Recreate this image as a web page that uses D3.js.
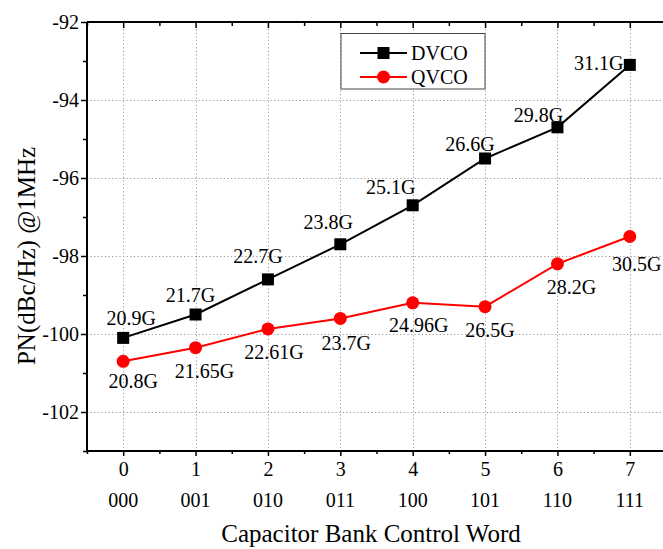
<!DOCTYPE html>
<html>
<head>
<meta charset="utf-8">
<script src="https://cdn.jsdelivr.net/npm/d3@7"></script>
<style>
  html, body { margin: 0; padding: 0; background: #fff; }
  svg { display: block; }
  text { font-family: "Liberation Serif", "Times New Roman", serif; fill: #000; }
</style>
</head>
<body>
<svg id="chart" width="663" height="549"></svg>
<script>
// ---- Data ----
const codes = [0, 1, 2, 3, 4, 5, 6, 7];
const codeWords = ["000", "001", "010", "011", "100", "101", "110", "111"];
const dvcoPN = [-100.1, -99.5, -98.6, -97.7, -96.7, -95.5, -94.7, -93.1];
const qvcoPN = [-100.7, -100.35, -99.87, -99.6, -99.2, -99.3, -98.2, -97.5];
const dvcoFreq = ["20.9G", "21.7G", "22.7G", "23.8G", "25.1G", "26.6G", "29.8G", "31.1G"];
const qvcoFreq = ["20.8G", "21.65G", "22.61G", "23.7G", "24.96G", "26.5G", "28.2G", "30.5G"];
const yTicks = [-102, -100, -98, -96, -94, -92];
const yMinorTicks = [-103, -101, -99, -97, -95, -93];
const xMinorTicks = [-0.5, 0.5, 1.5, 2.5, 3.5, 4.5, 5.5, 6.5, 7.5];

// ---- Label layout offsets (px) ----
const dvcoLabelDx = [8, -5, -10, -12, -22, -15, -19, -31];
const dvcoLabelDy = [-13, -13, -16, -15, -11, -8, -5, 5];
const qvcoLabelDx = [10, 9, 6, 6, 6, 5, 14, 7];
const qvcoLabelDy = [27, 30, 30, 32, 29, 30, 30, 34];

const svg = d3.select("#chart");
const pL = 87, pT = 22, pB = 451, pR = 666;

const x = d3.scaleLinear().domain([-0.5, 7.5]).range([pL, pR]);
const y = d3.scaleLinear().domain([-103, -92]).range([pB, pT]);

// Gridlines
const grid = svg.append("g").attr("stroke", "#9a9a9a").attr("stroke-width", 1)
  .attr("stroke-dasharray", "1.2,2.4");
grid.selectAll("line.gx").data(codes).enter().append("line")
  .attr("x1", d => Math.round(x(d)) + 0.5).attr("x2", d => Math.round(x(d)) + 0.5)
  .attr("y1", pT).attr("y2", pB);
grid.selectAll("line.gy").data(yTicks).enter().append("line")
  .attr("x1", pL).attr("x2", pR)
  .attr("y1", d => Math.round(y(d)) + 0.5).attr("y2", d => Math.round(y(d)) + 0.5);

// Axes
const fs = "20px";
const yAxis = svg.append("g").attr("transform", `translate(${pL},0)`)
  .call(d3.axisLeft(y).tickValues(yTicks).tickSize(6).tickPadding(2).tickFormat(d => String(d)));
const yMinor = svg.append("g").attr("transform", `translate(${pL},0)`)
  .call(d3.axisLeft(y).tickValues(yMinorTicks).tickSize(4).tickFormat(""));
const xAxis = svg.append("g").attr("transform", `translate(0,${pB})`)
  .call(d3.axisBottom(x).tickValues(codes).tickSize(5).tickPadding(6).tickFormat(d => String(d)));
const xMinor = svg.append("g").attr("transform", `translate(0,${pB})`)
  .call(d3.axisBottom(x).tickValues(xMinorTicks).tickSize(3).tickFormat(""));
const xTop = svg.append("g").attr("transform", `translate(0,${pT})`)
  .call(d3.axisTop(x).tickValues(codes).tickSize(-6).tickFormat(""));
const xTopMinor = svg.append("g").attr("transform", `translate(0,${pT})`)
  .call(d3.axisTop(x).tickValues(xMinorTicks).tickSize(-4).tickFormat(""));

[yAxis, yMinor, xAxis, xMinor, xTop, xTopMinor].forEach(g => {
  g.select(".domain").attr("stroke", "#000").attr("stroke-width", 2);
  g.selectAll(".tick line").attr("stroke", "#000").attr("stroke-width", 1.5);
  g.selectAll("text").style("font-family", '"Liberation Serif", serif').style("font-size", fs).attr("fill", "#000");
});
xAxis.selectAll(".domain").attr("d", `M${pL},0H${pR}`);
xTop.selectAll(".domain").attr("d", `M${pL},0H${pR}`);
yAxis.selectAll(".domain").attr("d", `M0,${pB}V${pT}`);
yMinor.select(".domain").remove();
xMinor.select(".domain").remove();
xTopMinor.select(".domain").remove();

// Second row of x labels (code words)
svg.append("g").selectAll("text").data(codes).enter().append("text")
  .attr("x", d => x(d)).attr("y", 507)
  .attr("text-anchor", "middle").style("font-size", fs)
  .text((d, i) => codeWords[i]);

// Axis titles
svg.append("text").attr("x", 371).attr("y", 542)
  .attr("text-anchor", "middle").style("font-size", "25px")
  .text("Capacitor Bank Control Word");
svg.append("text")
  .attr("transform", `translate(35,256) rotate(-90)`)
  .attr("text-anchor", "middle").style("font-size", "25px")
  .text("PN(dBc/Hz) @1MHz");

// Lines
const line = d3.line().x(d => x(d[0])).y(d => y(d[1]));
svg.append("path").datum(codes.map((c, i) => [c, dvcoPN[i]]))
  .attr("d", line).attr("fill", "none").attr("stroke", "#000").attr("stroke-width", 2);
svg.append("path").datum(codes.map((c, i) => [c, qvcoPN[i]]))
  .attr("d", line).attr("fill", "none").attr("stroke", "#ff0000").attr("stroke-width", 2);

// Markers
const sq = 12;
svg.append("g").selectAll("rect").data(codes).enter().append("rect")
  .attr("x", d => x(d) - sq / 2).attr("y", (d, i) => y(dvcoPN[i]) - sq / 2)
  .attr("width", sq).attr("height", sq).attr("fill", "#000");
svg.append("g").selectAll("circle").data(codes).enter().append("circle")
  .attr("cx", d => x(d)).attr("cy", (d, i) => y(qvcoPN[i]))
  .attr("r", 6.5).attr("fill", "#ff0000");

// Point labels
svg.append("g").selectAll("text").data(codes).enter().append("text")
  .attr("x", (d, i) => x(d) + dvcoLabelDx[i]).attr("y", (d, i) => y(dvcoPN[i]) + dvcoLabelDy[i])
  .attr("text-anchor", "middle").style("font-size", "20px")
  .text((d, i) => dvcoFreq[i]);
svg.append("g").selectAll("text").data(codes).enter().append("text")
  .attr("x", (d, i) => x(d) + qvcoLabelDx[i]).attr("y", (d, i) => y(qvcoPN[i]) + qvcoLabelDy[i])
  .attr("text-anchor", "middle").style("font-size", "20px")
  .text((d, i) => qvcoFreq[i]);

// Legend
const lg = svg.append("g");
lg.append("rect").attr("x", 341).attr("y", 33.5).attr("width", 144).attr("height", 55.5)
  .attr("fill", "#fff").attr("stroke", "#444").attr("stroke-width", 1);
const series = [
  { name: "DVCO", color: "#000", shape: "square" },
  { name: "QVCO", color: "#ff0000", shape: "circle" }
];
series.forEach((s, i) => {
  const cy = 53 + i * 24;
  lg.append("line").attr("x1", 360).attr("x2", 407).attr("y1", cy).attr("y2", cy)
    .attr("stroke", s.color).attr("stroke-width", 2);
  if (s.shape === "square") {
    lg.append("rect").attr("x", 383.5 - 6).attr("y", cy - 6).attr("width", 12).attr("height", 12).attr("fill", s.color);
  } else {
    lg.append("circle").attr("cx", 383.5).attr("cy", cy).attr("r", 6.5).attr("fill", s.color);
  }
  lg.append("text").attr("x", 411).attr("y", cy + 7).style("font-size", "20px").text(s.name);
});
</script>
</body>
</html>
